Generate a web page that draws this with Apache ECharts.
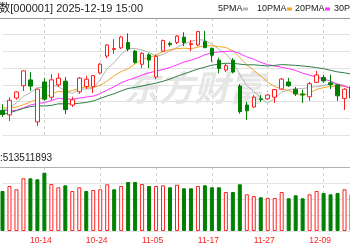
<!DOCTYPE html>
<html><head><meta charset="utf-8">
<script src="https://cdn.jsdelivr.net/npm/echarts@6/dist/echarts.min.js"></script>
<style>
html,body{margin:0;padding:0;width:350px;height:250px;overflow:hidden;background:#fff}
#c{position:absolute;left:-20px;top:0;width:420px;height:250px}
</style>
</head><body><div id="c"></div>
<script>
// ---- data ----
const dates = ["09-26","09-29","09-30","10-09","10-10","10-13","10-14","10-15","10-16","10-17","10-20","10-21","10-22","10-23","10-24","10-27","10-28","10-29","10-30","10-31","11-03","11-04","11-05","11-06","11-07","11-10","11-11","11-12","11-13","11-14","11-17","11-18","11-19","11-20","11-21","11-24","11-25","11-26","11-27","11-28","12-01","12-02","12-03","12-04","12-05","12-08","12-09","12-10","12-11","12-12","12-15"];
const openP = [3838,3827,3868,3898,3912,3810,3907,3870,3900,3909,3851,3883,3896,3896,3929,3970,3986,3990,4003,3982,3950,3973,3919,3982,4001,4003,4016,3998,3997,4005,3989,3960,3936,3960,3897,3851,3846,3866,3866,3870,3890,3907,3889,3878,3871,3906,3918,3905,3900,3867,3895];
const closeP = [3828.11,3862.53,3882.78,3933.97,3897.03,3889.50,3865.23,3912.21,3916.23,3839.76,3863.89,3916.33,3913.76,3922.41,3950.31,3996.94,3988.22,4016.33,3986.90,3954.79,3976.52,3960.19,3969.25,4007.76,3997.56,4018.60,4002.76,4000.14,4029.50,3990.49,3972.03,3939.81,3946.74,3931.05,3834.89,3836.77,3870.02,3864.18,3875.26,3888.60,3914.01,3897.71,3878.00,3875.79,3902.81,3924.08,3909.52,3900.50,3873.32,3889.35,3867.92];
const highP = [3853,3870,3884,3935,3931,3891,3917,3926,3928,3919,3871,3919,3922,3924,3953,3999,4011,4019,4025,3985,3979,3977,3974,4010,4005,4021,4028,4009,4031,4031,3990,3966,3951,3965,3902,3859,3875,3875,3878,3890,3917,3917,3895,3888,3907,3934,3924,3925,3902,3892,3898];
const lowP = [3822,3812,3864,3885,3885,3800,3861,3863,3895,3829,3846,3878,3890,3880,3926,3965,3975,3987,3982,3951,3941,3941,3914,3981,3993,3999,3994,3982,3994,3989,3956,3928,3931,3928,3830,3815,3844,3858,3863,3856,3888,3895,3873,3856,3861,3905,3905,3890,3861,3839,3862];
const prevClose = 3853.30;
const volumes = [625,703,652,823,823,808,911,734,683,714,625,683,625,641,652,730,652,703,766,766,734,703,703,714,683,723,667,667,703,714,683,683,609,609,730,573,547,527,516,516,609,511,558,511,573,625,594,573,594,652,573].map(v => v * 1e6);
const ma5 = [3837.2,3844.0,3856.2,3872.2,3881.0,3893.4,3893.8,3899.6,3896.0,3884.6,3879.4,3889.6,3890.0,3891.2,3913.2,3939.8,3954.2,3974.6,3987.6,3988.6,3984.6,3979.0,3969.6,3973.8,3982.4,3990.8,3999.4,4005.6,4010.0,4008.4,3999.0,3986.4,3975.8,3956.0,3925.0,3898.0,3884.0,3867.4,3856.2,3867.0,3882.4,3888.0,3890.8,3891.0,3893.8,3895.8,3898.2,3902.8,3902.2,3899.4,3888.2];
const ma10 = [3843.7,3843.9,3846.0,3851.8,3858.3,3865.3,3868.9,3877.9,3884.1,3882.8,3886.4,3891.7,3894.8,3893.6,3898.9,3909.6,3921.9,3932.3,3939.4,3950.9,3962.2,3966.6,3972.1,3980.7,3985.5,3987.7,3989.2,3987.6,3991.9,3995.4,3994.9,3992.9,3990.7,3983.0,3966.7,3948.5,3935.2,3921.6,3906.1,3896.0,3890.2,3886.0,3879.1,3873.6,3880.4,3889.1,3893.1,3896.8,3896.6,3896.6,3892.0];
const ma20 = [3837.8,3837.2,3838.4,3844.4,3851.0,3854.8,3856.7,3862.0,3867.2,3865.4,3865.1,3867.8,3870.4,3872.7,3878.6,3887.5,3895.4,3905.1,3911.8,3916.9,3924.3,3929.2,3933.5,3937.2,3942.2,3948.7,3955.6,3960.0,3965.7,3973.2,3978.6,3979.8,3981.4,3981.9,3976.1,3968.1,3962.2,3954.6,3949.0,3945.7,3942.6,3939.5,3934.9,3928.3,3923.6,3918.8,3914.2,3909.2,3901.4,3896.3,3891.1];
const ma30 = [3827.6,3832.1,3837.3,3842.9,3847.1,3849.2,3848.6,3850.1,3853.9,3853.8,3854.0,3855.3,3857.2,3860.8,3866.9,3873.1,3878.4,3885.4,3891.2,3893.9,3897.4,3900.7,3904.3,3908.7,3914.2,3920.9,3926.7,3932.6,3938.5,3943.0,3947.8,3950.4,3952.5,3952.4,3950.4,3948.6,3948.8,3947.2,3945.8,3947.4,3949.1,3948.5,3947.3,3945.8,3944.2,3941.8,3939.2,3935.3,3931.5,3929.3,3925.7];
const titleText = "上证指数[000001] 2025-12-19 15:00";
const legendNames = ["5PMA","10PMA","20PMA","30PMA"];
const volumeText = "成交量:513511893";
const watermarkText = "东方财富";

// ---- style / layout ----
const OFF = 20;
const C_UP = "#ff2020", C_DN = "#008000";
const maColors = ["#b4b4b4", "#f5a623", "#ff33ff", "#2f7d44"];
const FONT = '"Liberation Sans", "Noto Sans CJK SC", sans-serif';
const labelIdx = (i) => (i - 6) % 8 === 0;

const chart = echarts.init(document.getElementById('c'), null, {renderer: 'canvas'});

const candleData = dates.map((d, i) => [openP[i], closeP[i], lowP[i], highP[i]]);
const volData = volumes.map((v, i) => {
  const pc = i === 0 ? prevClose : closeP[i - 1];
  const up = closeP[i] >= pc;
  return {value: v, itemStyle: up ? {color: '#fff', borderColor: C_UP, borderWidth: 1} : {color: C_DN, borderColor: C_DN, borderWidth: 1}};
});

const legendX = [218, 257, 295, 334];
const legendLineX = [243, 287, 325, 366];
const graphics = [
  {type: 'line', shape: {x1: 0, y1: 18.5, x2: 420, y2: 18.5}, style: {stroke: '#9a9a9a', lineWidth: 1}, z: 5},
  {type: 'line', shape: {x1: 0, y1: 167.5, x2: 420, y2: 167.5}, style: {stroke: '#b0b0b0', lineWidth: 1}, z: 5},
  {type: 'text', x: 143 + OFF, y: 3, style: {text: titleText, textAlign: 'right', font: '11px ' + FONT, fill: '#222'}, z: 5},
  {type: 'text', x: 52 + OFF, y: 153, style: {text: volumeText, textAlign: 'right', font: '10px ' + FONT, fill: '#222'}, z: 5},
  {type: 'text', x: 124 + OFF, y: 70, style: {text: watermarkText, font: 'italic bold 35px "Noto Sans CJK SC"', fill: '#e6e6e6'}, z: 1}
];
legendNames.forEach((n, i) => {
  graphics.push({type: 'text', x: legendX[i] + OFF, y: 4, style: {text: n, font: '9px ' + FONT, fill: '#222'}, z: 5});
  graphics.push({type: 'rect', shape: {x: legendLineX[i] + OFF, y: 7.5, width: 5, height: 3}, style: {fill: maColors[i]}, z: 5});
});

const mkLine = (name, data, color) => ({
  name, type: 'line', data, xAxisIndex: 0, yAxisIndex: 0, showSymbol: false, symbol: 'none',
  lineStyle: {width: 1, color}, itemStyle: {color}, z: 3, clip: false
});

const xBase = {
  type: 'category', data: dates, boundaryGap: false,
  axisLine: {show: false}, axisTick: {show: false},
  splitLine: {show: true, interval: labelIdx, lineStyle: {color: '#d0d0d0', type: [3, 3], width: 1}}
};

chart.setOption({
  animation: false,
  backgroundColor: '#fff',
  grid: [
    {left: 22.5, width: 349, top: 18, height: 117},
    {left: 22.5, width: 349, top: 167, height: 64}
  ],
  xAxis: [
    Object.assign({}, xBase, {gridIndex: 0, axisLabel: {show: false}}),
    Object.assign({}, xBase, {gridIndex: 1, axisLabel: {show: true, interval: labelIdx, color: '#ff2020', fontSize: 8.5, fontFamily: FONT, margin: 5, padding: [0, 7, 0, 0]}})
  ],
  yAxis: [
    {gridIndex: 0, type: 'value', min: 3778.125, max: 4062.5, interval: 40.625, axisLabel: {show: false}, axisLine: {show: false}, axisTick: {show: false},
     splitLine: {lineStyle: {color: '#e2e2e2', width: 1}}},
    {gridIndex: 1, type: 'value', min: 0, max: 1e9, interval: 2.5e8, axisLabel: {show: false}, axisLine: {show: false}, axisTick: {show: false},
     splitLine: {lineStyle: {color: '#e2e2e2', width: 1}}}
  ],
  graphic: graphics,
  series: [
    {type: 'candlestick', data: candleData, xAxisIndex: 0, yAxisIndex: 0, barWidth: 4, clip: false, z: 4,
     itemStyle: {color: '#fff', color0: C_DN, borderColor: C_UP, borderColor0: C_DN, borderWidth: 1}},
    mkLine(legendNames[0], ma5, maColors[0]),
    mkLine(legendNames[1], ma10, maColors[1]),
    mkLine(legendNames[2], ma20, maColors[2]),
    mkLine(legendNames[3], ma30, maColors[3]),
    {type: 'bar', data: volData, xAxisIndex: 1, yAxisIndex: 1, barWidth: 4, clip: false}
  ]
});
</script>
</body></html>
